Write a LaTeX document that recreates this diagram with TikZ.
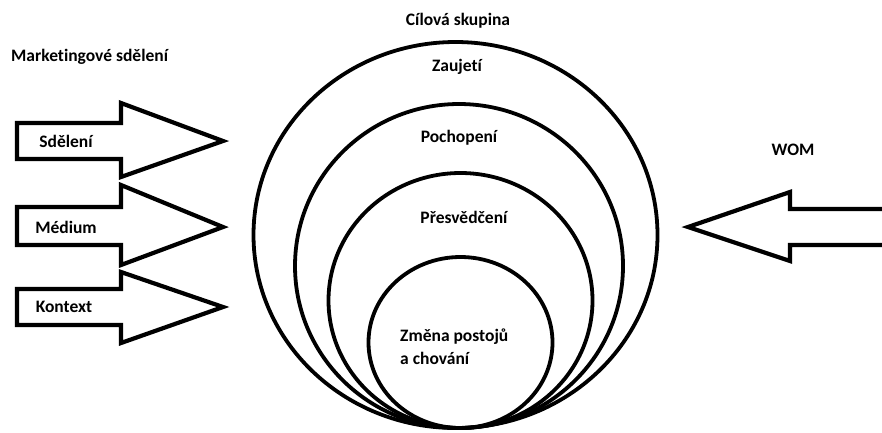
\documentclass[tikz,border=0pt]{standalone}
\usepackage{fontspec}
\setmainfont[Ligatures=NoCommon]{Carlito}
\begin{document}
\begin{tikzpicture}[x=1pt,y=-1pt,
  shp/.style={line width=4.2pt,line join=miter,black},
  ring/.style={line width=3.8pt,black},
  lbl/.style={font=\bfseries\fontsize{17.5}{21}\selectfont,inner sep=0pt}]
\useasboundingbox (0,0) rectangle (882,432);
% left arrows
\draw[shp] (17,123) -- (121,123) -- (121,103) -- (223,141) -- (121,177) -- (121,159) -- (17,159) -- cycle;
\draw[shp] (17,207) -- (121,207) -- (121,185) -- (223,227) -- (121,265) -- (121,245) -- (17,245) -- cycle;
\draw[shp] (17,289) -- (121,289) -- (121,272) -- (223,307) -- (121,343) -- (121,325) -- (17,325) -- cycle;
% WOM arrow
\draw[shp] (884,209) -- (790,209) -- (790,192) -- (688,227) -- (790,261) -- (790,245) -- (884,245);
% rings
\draw[ring] (455.5,235) ellipse [x radius=202, y radius=193];
\draw[ring] (459,266) ellipse [x radius=164, y radius=162];
\draw[ring] (460.5,300.5) ellipse [x radius=132, y radius=127.5];
\draw[ring] (460.5,342.5) ellipse [x radius=92, y radius=85.5];
% labels
\node[lbl,anchor=west] (mk) at (11,57) {Marketingové sdělení};
\node[lbl] (sd) at (66,141) {Sdělení};
\node[lbl] (me) at (66,227) {Médium};
\node[lbl] (ko) at (64,307) {Kontext};
\node[lbl] (cs) at (458,21) {Cílová skupina};
\node[lbl] (za) at (457,67) {Zaujetí};
\node[lbl] (po) at (459,138) {Pochopení};
\node[lbl] (pr) at (464,217) {Přesvědčení};
\node[lbl,anchor=west,align=left] (zm) at (400,347) {Změna postojů\\[2pt]a chování};
\node[lbl] (wo) at (793,150) {WOM};
\end{tikzpicture}
\end{document}
